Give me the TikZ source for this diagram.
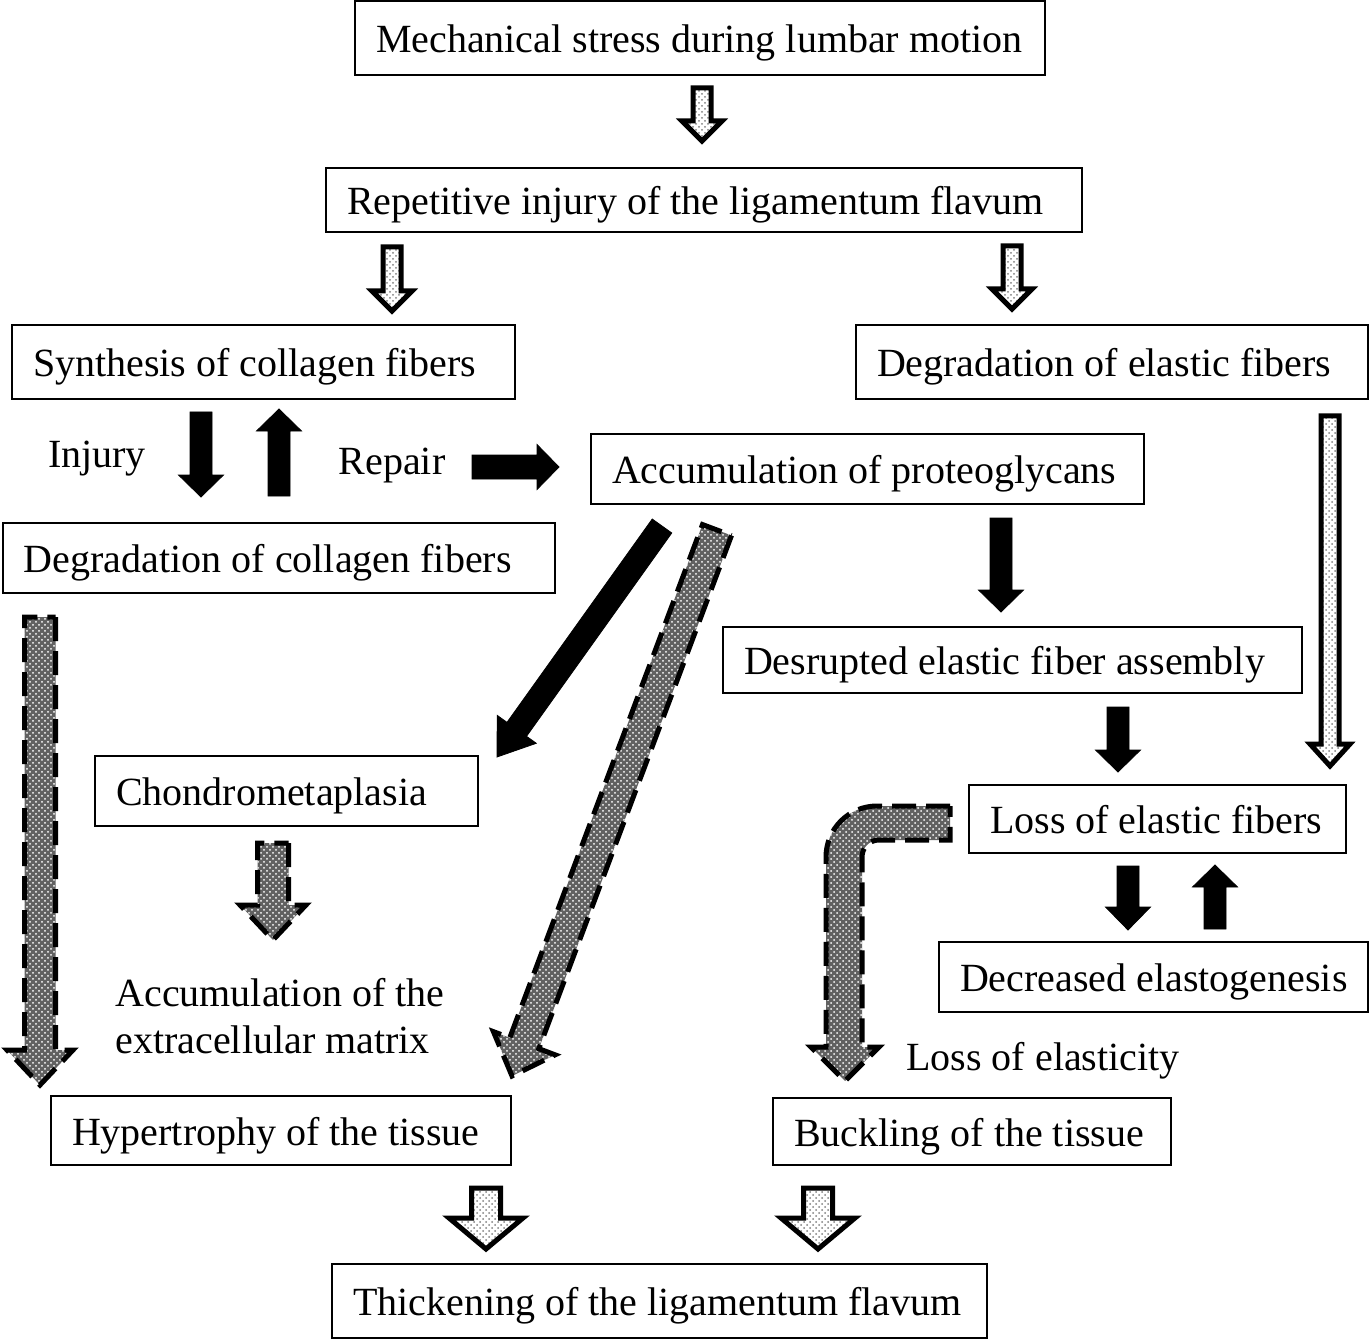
\documentclass[tikz,border=0pt]{standalone}
\usepackage{fontspec}
\setmainfont{Liberation Serif}
\usepackage{tikz}
\usetikzlibrary{
  calc,
  patterns}

% block arrow: style, from, to, shaft half width, head half width, head length
\newcommand{\blockarrow}[6][]{%
  \coordinate (hb) at ($(#3)!#6!(#2)$);
  \draw[#1] ($(#2)!#4!90:(#3)$) -- ($(hb)!#4!90:(#3)$) -- ($(hb)!#5!90:(#3)$) -- (#3)
    -- ($(hb)!#5!-90:(#3)$) -- ($(hb)!#4!-90:(#3)$) -- ($(#2)!#4!-90:(#3)$) -- cycle;
}

\begin{document}
\begin{tikzpicture}[x=0.5pt, y=-0.5pt,
  font=\fontsize{20}{23.5}\selectfont,
  flowbox/.style={draw, line width=1pt, minimum height=35pt, inner xsep=10.5pt, inner ysep=0pt,
    text width=#1-21pt, align=left, text height=16.5pt, text depth=2pt,
    execute at begin node={\spaceskip=0pt\xspaceskip=0pt\hbox\bgroup},
    execute at end node={\egroup}},
  freetext/.style={inner sep=0pt},
  blackarrow/.style={fill=black},
  hollowarrow/.style={draw, line width=2.5pt, preaction={fill=white},
    pattern=crosshatch dots, pattern color=gray},
  greyarrow/.style={draw, line width=2.5pt, dash pattern=on 12pt off 5pt,
    preaction={fill=black!62}, pattern=crosshatch dots, pattern color=white}]
  \useasboundingbox (0,0) rectangle (1370,1342);

  \node[flowbox=345pt, minimum height=37pt] (mech) at (700,38) {Mechanical stress during lumbar motion};
  \node[flowbox=378pt, minimum height=32pt] (rep) at (704,200) {Repetitive injury of the ligamentum flavum};
  \node[flowbox=251.5pt, minimum height=37pt] (syn) at (263.5,362) {Synthesis of collagen fibers};
  \node[flowbox=256pt, minimum height=37pt] (degel) at (1112,362) {Degradation of elastic fibers};
  \node[flowbox=276.5pt] (prot) at (867.5,468.5) {Accumulation of proteoglycans};
  \node[flowbox=276pt] (degcol) at (279,557.5) {Degradation of collagen fibers};
  \node[flowbox=289.5pt, minimum height=33pt] (desr) at (1012.5,660) {Desrupted elastic fiber assembly};
  \node[flowbox=191.5pt] (chon) at (286.5,791) {Chondrometaplasia};
  \node[flowbox=188.5pt, minimum height=34pt] (losel) at (1157.5,819) {Loss of elastic fibers};
  \node[flowbox=214.5pt] (decel) at (1153.5,977) {Decreased elastogenesis};
  \node[flowbox=230pt, minimum height=34.5pt] (hyper) at (281,1130.5) {Hypertrophy of the tissue};
  \node[flowbox=199pt, minimum height=33.5pt] (buck) at (972,1131.5) {Buckling of the tissue};
  \node[flowbox=327.5pt, minimum height=37pt] (thick) at (659.5,1301) {Thickening of the ligamentum flavum};

  \node[freetext] (injury) at (97,459) {Injury};
  \node[freetext] (repair) at (392,466) {Repair};
  \node[freetext, anchor=west, align=left] (matrix) at (115,1016) {Accumulation of the\\extracellular matrix};
  \node[freetext] (elasticity) at (1043,1061) {Loss of elasticity};

  \coordinate (mech-from) at (702,88);    \coordinate (mech-to) at (702,141);
  \coordinate (syn-from) at (392,247);    \coordinate (syn-to) at (392,311);
  \coordinate (degel-from) at (1012,246); \coordinate (degel-to) at (1012,309);
  \coordinate (long-from) at (1330,416);  \coordinate (long-to) at (1330,766);
  \coordinate (injury-from) at (201,412); \coordinate (injury-to) at (201,497);
  \coordinate (repair-from) at (279,496); \coordinate (repair-to) at (279,409);
  \coordinate (prot-from) at (472,467);   \coordinate (prot-to) at (559,467);
  \coordinate (pg-from) at (1001,518);    \coordinate (pg-to) at (1001,612);
  \coordinate (asm-from) at (1118,707);   \coordinate (asm-to) at (1118,772);
  \coordinate (loss-from) at (1128,866);  \coordinate (loss-to) at (1128,930);
  \coordinate (gen-from) at (1215,929);   \coordinate (gen-to) at (1215,865);
  \coordinate (chon-from) at (662,526);   \coordinate (chon-to) at (497,757);
  \coordinate (ecm-from) at (717,530);    \coordinate (ecm-to) at (512,1076);
  \coordinate (hyp-from) at (40,617);     \coordinate (hyp-to) at (40,1085);
  \coordinate (mat-from) at (273,843);    \coordinate (mat-to) at (273,940);
  \coordinate (thl-from) at (486,1188);   \coordinate (thl-to) at (486,1249);
  \coordinate (thr-from) at (818,1188);   \coordinate (thr-to) at (818,1249);

  \blockarrow[hollowarrow]{mech-from}{mech-to}{4.5pt}{10pt}{10pt}
  \blockarrow[hollowarrow]{syn-from}{syn-to}{4.5pt}{10pt}{10pt}
  \blockarrow[hollowarrow]{degel-from}{degel-to}{4.5pt}{10pt}{10pt}
  \blockarrow[hollowarrow]{long-from}{long-to}{4.5pt}{10pt}{11pt}
  \blockarrow[hollowarrow]{thl-from}{thl-to}{7.25pt}{18.5pt}{15.5pt}
  \blockarrow[hollowarrow]{thr-from}{thr-to}{7.25pt}{18.5pt}{15.5pt}

  \blockarrow[blackarrow]{injury-from}{injury-to}{5.5pt}{11.25pt}{11pt}
  \blockarrow[blackarrow]{repair-from}{repair-to}{5.5pt}{11.25pt}{11pt}
  \blockarrow[blackarrow]{prot-from}{prot-to}{6pt}{11.25pt}{11pt}
  \blockarrow[blackarrow]{pg-from}{pg-to}{5.5pt}{11.25pt}{11pt}
  \blockarrow[blackarrow]{asm-from}{asm-to}{5.5pt}{11.25pt}{11pt}
  \blockarrow[blackarrow]{loss-from}{loss-to}{5.5pt}{11.25pt}{11.5pt}
  \blockarrow[blackarrow]{gen-from}{gen-to}{5.5pt}{11.25pt}{11pt}
  \blockarrow[blackarrow]{chon-from}{chon-to}{6pt}{12pt}{17pt}

  \blockarrow[greyarrow]{hyp-from}{hyp-to}{7.75pt}{16.5pt}{17.5pt}
  \blockarrow[greyarrow]{mat-from}{mat-to}{7.75pt}{16.5pt}{17.5pt}
  \blockarrow[greyarrow]{ecm-from}{ecm-to}{7.75pt}{16.5pt}{17.5pt}
  \draw[greyarrow] (950,806) -- (877,806) arc[start angle=-90, end angle=-180, radius=51]
    -- (826,1047) -- (811,1047) -- (845,1081) -- (879,1047) -- (862,1047) -- (862,857)
    arc[start angle=180, end angle=270, radius=17] -- (950,840) -- cycle;
\end{tikzpicture}
\end{document}
